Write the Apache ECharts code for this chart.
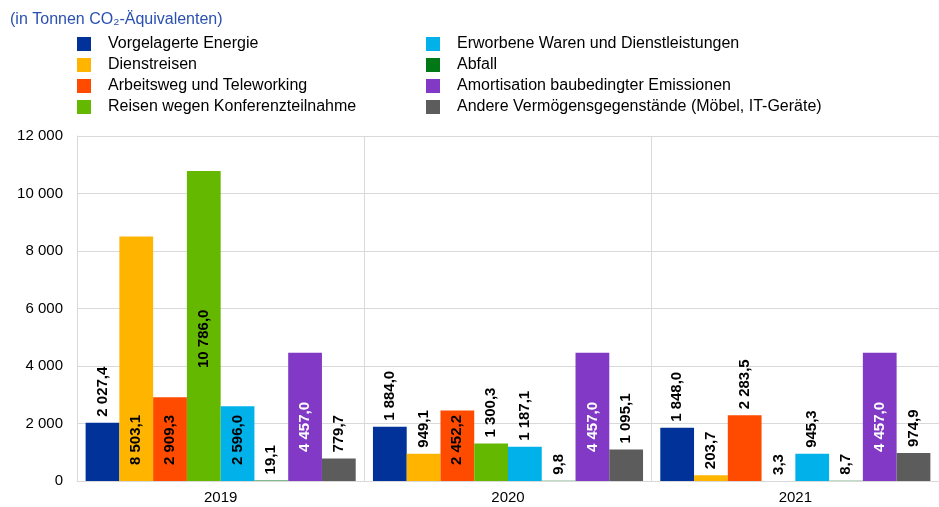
<!DOCTYPE html>
<html>
<head>
    <meta charset="utf-8">
    <title>CO2-Äquivalente</title>
    <script src="https://cdn.jsdelivr.net/npm/echarts@6.0.0/dist/echarts.min.js"></script>
</head>
<body style="margin:0">
    <div id="chart" style="width: 939px;height:507px"></div>

    <script>
        const years = ['2019', '2020', '2021']
        const names = [
            'Vorgelagerte Energie', 'Dienstreisen', 'Arbeitsweg und Teleworking', 'Reisen wegen Konferenzteilnahme',
            'Erworbene Waren und Dienstleistungen', 'Abfall', 'Amortisation baubedingter Emissionen',
            'Andere Vermögensgegenstände (Möbel, IT-Geräte)'
        ]
        const vorgelagerteEnergie = [2027.4, 1884.0, 1848.0]
        const dienstreisen = [8503.1, 949.1, 203.7]
        const arbeitsweg = [2909.3, 2452.2, 2283.5]
        const konferenzreisen = [10786.0, 1300.3, 3.3]
        const erworbeneWaren = [2596.0, 1187.1, 945.3]
        const abfall = [19.1, 9.8, 8.7]
        const amortisation = [4457.0, 4457.0, 4457.0]
        const andere = [779.7, 1095.1, 974.9]
        const yTicks = [0, 2000, 4000, 6000, 8000, 10000, 12000]

        const values = [vorgelagerteEnergie, dienstreisen, arbeitsweg, konferenzreisen,
            erworbeneWaren, abfall, amortisation, andere]
        const colors = ['#003299', '#ffb400', '#ff4b00', '#65b800', '#00b1ea', '#007816', '#8139c6', '#5c5c5c']
        const font = 'Liberation Sans, Arial, sans-serif'

        // which labels sit inside the bar (series index -> year index -> mode)
        const insideLabels = {
            1: { 0: 'base' },
            2: { 0: 'base', 1: 'base' },
            3: { 0: 'mid' },
            4: { 0: 'base' },
            6: { 0: 'white', 1: 'white', 2: 'white' }
        }

        function fmt(v) {
            const [i, d] = v.toFixed(1).split('.')
            return i.replace(/\B(?=(\d{3})+(?!\d))/g, ' ') + ',' + d
        }

        function labelFor(s, y) {
            const mode = (insideLabels[s] || {})[y]
            const base = { show: true, rotate: 90, fontFamily: font, fontSize: 15, fontWeight: 'bold', color: '#000', formatter: p => fmt(p.value) }
            if (!mode) return Object.assign(base, { position: 'top', align: 'left', verticalAlign: 'middle', distance: 6 })
            if (mode === 'mid') return Object.assign(base, { position: 'insideBottom', align: 'left', verticalAlign: 'middle', distance: 113 })
            if (mode === 'white') return Object.assign(base, { position: 'insideBottom', align: 'left', verticalAlign: 'middle', distance: 29, color: '#fff' })
            return Object.assign(base, { position: 'insideBottom', align: 'left', verticalAlign: 'middle', distance: 16 })
        }

        const series = names.map((name, s) => ({
            name: name,
            type: 'bar',
            barGap: 0,
            barCategoryGap: '6%',
            itemStyle: { color: colors[s] },
            data: values[s].map((v, y) => ({ value: v, label: labelFor(s, y) }))
        }))

        const legendBase = {
            orient: 'vertical', top: 35, padding: 0, itemWidth: 14, itemHeight: 14, itemGap: 3,
            icon: 'rect',
            textStyle: { fontFamily: font, fontSize: 16, lineHeight: 18, color: '#000', padding: [0, 0, 0, 12] }
        }

        const chart = echarts.init(document.getElementById('chart'))
        chart.setOption({
            animation: false,
            title: {
                text: '(in Tonnen CO₂-Äquivalenten)', left: 5, top: 7,
                textStyle: { fontFamily: font, fontSize: 16, fontWeight: 'normal', color: '#2a50b0' }
            },
            legend: [
                Object.assign({ left: 77, data: names.slice(0, 4) }, legendBase),
                Object.assign({ left: 426, data: names.slice(4) }, legendBase)
            ],
            grid: { left: 77, right: -1, top: 136, bottom: 26 },
            xAxis: {
                type: 'category', data: years,
                axisLine: { lineStyle: { color: '#d9d9d9' } },
                axisTick: { show: false },
                splitLine: { show: true, lineStyle: { color: '#d9d9d9' } },
                axisLabel: { fontFamily: font, fontSize: 15, color: '#000', margin: 9 }
            },
            yAxis: {
                type: 'value', min: yTicks[0], max: yTicks[yTicks.length - 1], interval: 2000,
                axisLine: { show: true, lineStyle: { color: '#d9d9d9' } },
                splitLine: { lineStyle: { color: '#d9d9d9' } },
                axisLabel: {
                    fontFamily: font, fontSize: 15, color: '#000', margin: 14,
                    formatter: v => String(v).replace(/\B(?=(\d{3})+(?!\d))/g, ' ')
                }
            },
            series: series
        })
    </script>
</body>
</html>
